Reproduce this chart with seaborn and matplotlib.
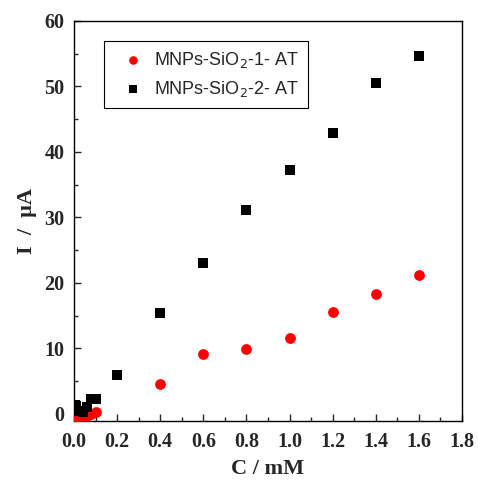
import matplotlib
matplotlib.use("Agg")
import matplotlib.pyplot as plt
import seaborn as sns
import pandas as pd
from matplotlib.ticker import MultipleLocator

conc = [0.005, 0.01, 0.02, 0.04, 0.06, 0.08, 0.1, 0.2, 0.4, 0.6, 0.8, 1.0, 1.2, 1.4, 1.6]
i_at1 = [-0.3, -0.6, -0.5, -0.4, -0.3, -0.1, 0.3, None, 4.6, 9.1, 9.9, 11.6, 15.5, 18.3, 21.2]
i_at2 = [1.3, 1.2, 0.5, 0.3, 1.0, 2.2, 2.3, 6.0, 15.4, 23.0, 31.1, 37.25, 42.9, 50.6, 54.7]
series_names = ["MNPs-SiO$_2$-1- AT", "MNPs-SiO$_2$-2- AT"]
xticks = [0.0, 0.2, 0.4, 0.6, 0.8, 1.0, 1.2, 1.4, 1.6, 1.8]
yticks = [0, 10, 20, 30, 40, 50, 60]

df1 = pd.DataFrame({"C": conc, "I": i_at1}).dropna()
df2 = pd.DataFrame({"C": conc, "I": i_at2})

sns.set_style("ticks")
plt.rcParams["font.family"] = ["Liberation Serif", "DejaVu Serif"]

fig = plt.figure(figsize=(4.78, 4.82), dpi=100)
ax = fig.add_axes([74/478, 1 - 421/482, (462-74)/478, (421-21)/482])

sns.scatterplot(data=df1, x="C", y="I", color="#ff0000", marker="o",
                s=60, linewidth=0, ax=ax, zorder=3, label=series_names[0])
sns.scatterplot(data=df2, x="C", y="I", color="#000000", marker="s",
                s=42, linewidth=0, ax=ax, zorder=3, label=series_names[1])

ax.set_xticks(xticks)
ax.set_yticks(yticks)
ax.set_xticklabels([f"{v:.1f}" for v in xticks], fontweight="bold", fontsize=14.5)
ax.set_yticklabels([f"{v}" for v in yticks], fontweight="bold", fontsize=14.5)
ax.xaxis.set_minor_locator(MultipleLocator(0.1))
ax.yaxis.set_minor_locator(MultipleLocator(5))
ax.set_xlim(0, 1.8)
ax.set_ylim(-1.1, 60)
ax.tick_params(which="both", direction="in", top=False, right=False)
ax.tick_params(which="major", length=5, width=1)
ax.tick_params(axis="x", which="major", pad=8)
ax.tick_params(axis="y", which="major", pad=7)
ax.tick_params(which="minor", length=3, width=1)

for sp in ax.spines.values():
    sp.set_visible(True)
    sp.set_linewidth(1)
    sp.set_color("black")

ax.set_xlabel("C / mM", fontweight="bold", fontsize=16, labelpad=5)
ax.set_ylabel("I  /  μA", fontweight="bold", fontsize=16, labelpad=5)

leg = ax.legend(loc="upper left", bbox_to_anchor=(0.077, 0.95), frameon=True,
                fancybox=False, edgecolor="black", framealpha=1,
                prop={"family": "Liberation Sans", "size": 13},
                handlelength=2.2, handletextpad=0.05, borderpad=0.5,
                labelspacing=0.5, markerscale=0.8, borderaxespad=0)
leg.get_frame().set_linewidth(0.8)

fig.savefig("out.png", dpi=100)
